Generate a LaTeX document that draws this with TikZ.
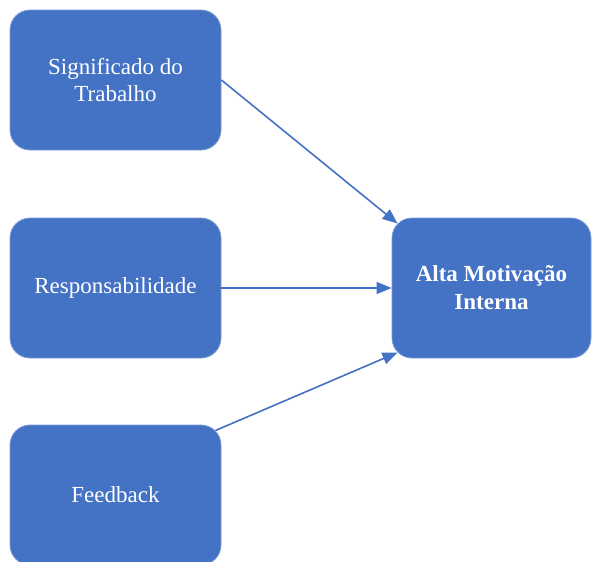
\documentclass[tikz,border=0pt]{standalone}
\usepackage{fontspec}
\setmainfont{Liberation Serif}
\usetikzlibrary{arrows.meta}
\definecolor{boxblue}{HTML}{4472C4}
\definecolor{edgeblue}{HTML}{7E9BD6}

\begin{document}
\begin{tikzpicture}[x=1pt,y=-1pt,
        caixa/.style={draw=edgeblue, line width=0.8pt, fill=boxblue, rounded corners=20pt,
            minimum width=211pt, minimum height=140pt, inner sep=0pt,
            text=white, align=center, font=\fontsize{23}{27}\selectfont},
        seta/.style={draw=boxblue, line width=1.6pt, -{Triangle[length=15pt,width=12pt]}}]
        \useasboundingbox (0,0) rectangle (592,562);
        % Caixas da esquerda
        \node[caixa] (signif) at (115.5,80) {Significado do\\Trabalho};
        \node[caixa] (resp) at (115.5,288) {Responsabilidade};
        \node[caixa] (feed) at (115.5,495) {Feedback};
        % Caixa da direita
        \node[caixa, minimum width=199pt, font=\fontsize{23}{28}\selectfont\bfseries] (alta) at (491.5,288) {Alta Motivação\\Interna};
        % Pontos nos cantos arredondados
        \coordinate (altaNO) at ([xshift=5.9pt,yshift=-5.9pt]alta.north west);
        \coordinate (altaSO) at ([xshift=5.9pt,yshift=5.9pt]alta.south west);
        \coordinate (feedNE) at ([xshift=-5.9pt,yshift=-5.9pt]feed.north east);
        % Setas
        \draw[seta] (signif.east) -- (altaNO);
        \draw[seta] (resp.east) -- (alta.west);
        \draw[seta] (feedNE) -- (altaSO);
    \end{tikzpicture}
\end{document}
